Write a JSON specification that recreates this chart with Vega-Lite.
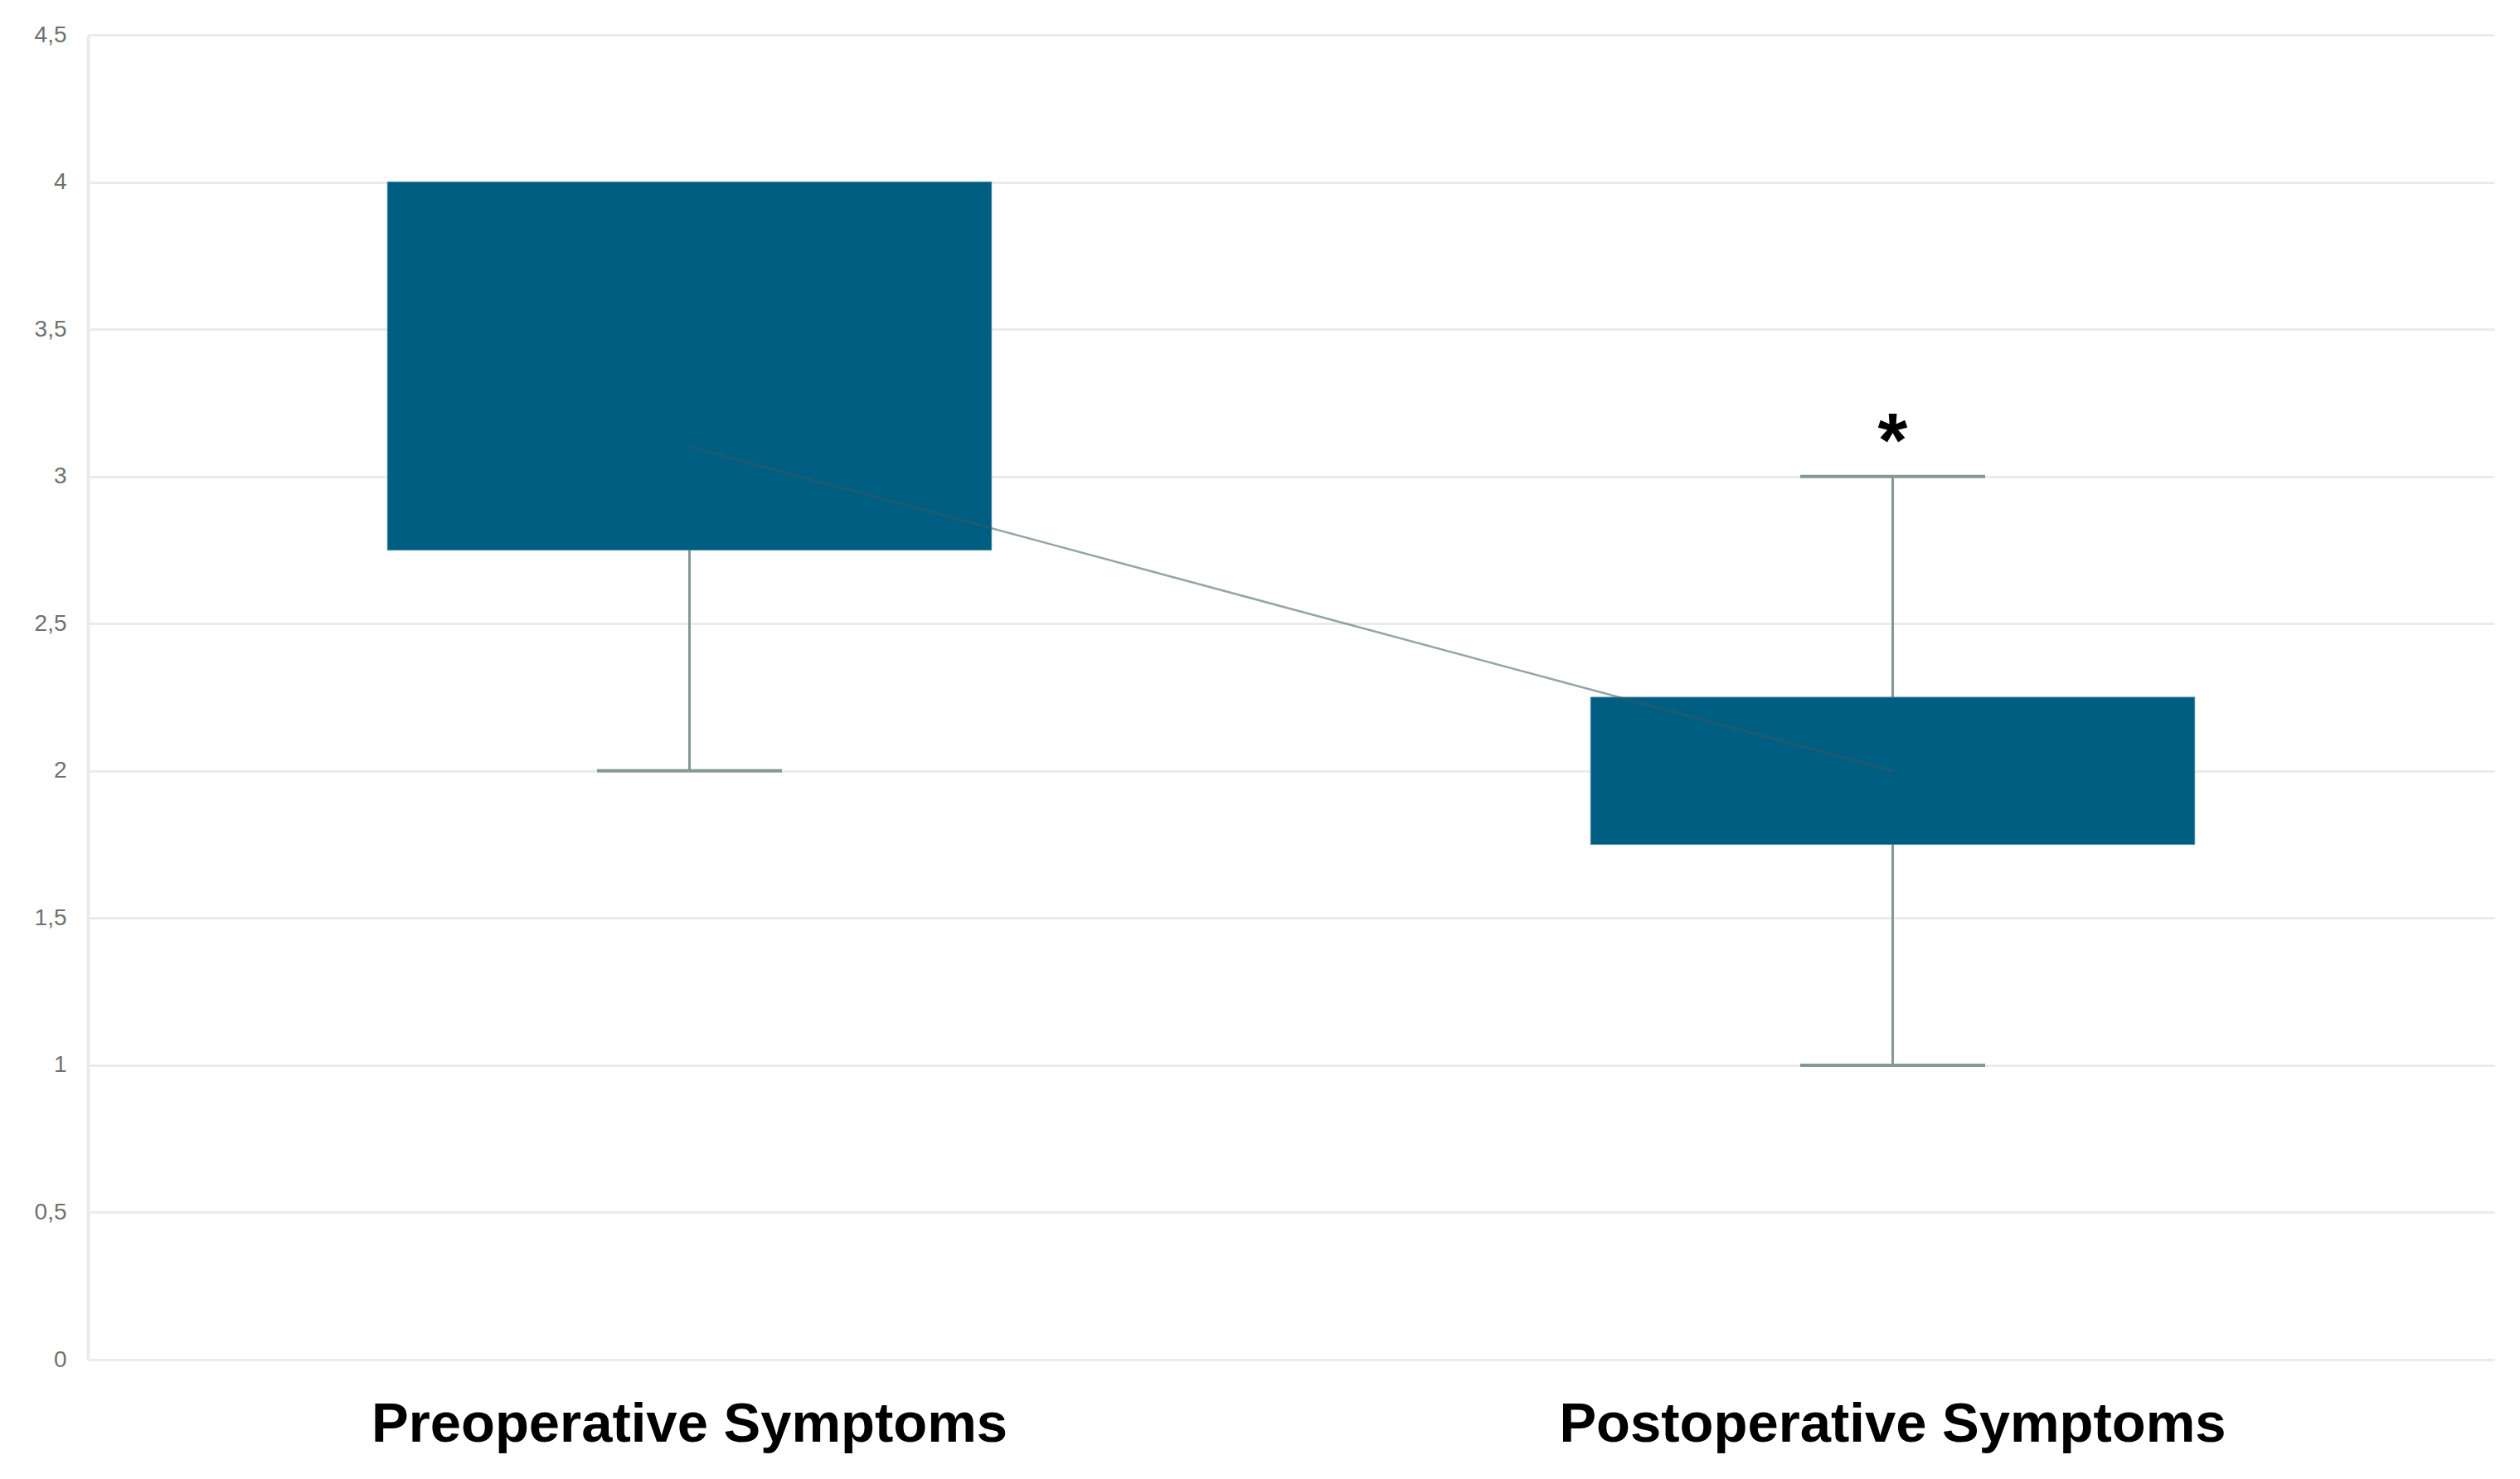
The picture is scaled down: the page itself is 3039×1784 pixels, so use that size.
{
  "$schema": "https://vega.github.io/schema/vega-lite/v6.json",
  "width": 2902,
  "height": 1598,
  "autosize": {"type": "none"},
  "padding": {"left": 106, "top": 42, "right": 31, "bottom": 144},
  "background": "white",
  "config": {"view": {"stroke": null}},
  "datasets": {
    "boxes": [
      {"group": "Preoperative Symptoms", "q1": 2.75, "q3": 4, "lower": 2, "upper": 4, "mean": 3.1},
      {"group": "Postoperative Symptoms", "q1": 1.75, "q3": 2.25, "lower": 1, "upper": 3, "mean": 2.0}
    ],
    "caps": [
      {"group": "Preoperative Symptoms", "value": 2},
      {"group": "Postoperative Symptoms", "value": 1},
      {"group": "Postoperative Symptoms", "value": 3}
    ],
    "stars": [
      {"group": "Postoperative Symptoms", "value": 3.16, "label": "*"}
    ]
  },
  "encoding": {
    "x": {
      "field": "group",
      "type": "nominal",
      "sort": ["Preoperative Symptoms", "Postoperative Symptoms"],
      "scale": {"paddingInner": 0, "paddingOuter": 0},
      "axis": {
        "title": null,
        "labelAngle": 0,
        "labelFont": "Liberation Sans",
        "labelFontWeight": "bold",
        "labelFontSize": 67,
        "labelColor": "#000000",
        "labelPadding": 45,
        "labelLimit": 2000,
        "ticks": false,
        "domain": false,
        "grid": false
      }
    }
  },
  "layer": [
    {
      "data": {"name": "boxes"},
      "mark": {"type": "rule", "color": "#849898", "strokeWidth": 3},
      "encoding": {
        "y": {
          "field": "lower",
          "type": "quantitative",
          "scale": {"domain": [0, 4.5], "nice": false},
          "axis": {
            "title": null,
            "values": [0, 0.5, 1, 1.5, 2, 2.5, 3, 3.5, 4, 4.5],
            "labelExpr": "replace(format(datum.value, '~g'), '.', ',')",
            "labelFont": "Liberation Sans",
            "labelFontSize": 28,
            "labelColor": "#707070",
            "labelPadding": 26,
            "ticks": false,
            "domain": true,
            "domainColor": "#ebebeb",
            "domainWidth": 4,
            "grid": true,
            "gridColor": "#ebebeb",
            "gridWidth": 3
          }
        },
        "y2": {"field": "upper"}
      }
    },
    {
      "data": {"name": "caps"},
      "mark": {"type": "tick", "orient": "horizontal", "color": "#849898", "size": 223, "thickness": 4, "opacity": 1},
      "encoding": {
        "y": {"field": "value", "type": "quantitative"}
      }
    },
    {
      "data": {"name": "boxes"},
      "mark": {"type": "bar", "color": "#005e82", "width": {"band": 0.502}, "stroke": "#3f87a0", "strokeWidth": 1, "opacity": 1},
      "encoding": {
        "y": {"field": "q1", "type": "quantitative"},
        "y2": {"field": "q3"}
      }
    },
    {
      "data": {"name": "boxes"},
      "mark": {"type": "line", "color": "#3d5a60", "strokeWidth": 2.5, "opacity": 0.55},
      "encoding": {
        "y": {"field": "mean", "type": "quantitative"}
      }
    },
    {
      "data": {"name": "stars"},
      "mark": {"type": "text", "font": "Liberation Sans", "fontWeight": "bold", "fontSize": 92, "color": "#000000", "baseline": "alphabetic", "dy": 45},
      "encoding": {
        "y": {"field": "value", "type": "quantitative"},
        "text": {"field": "label"}
      }
    }
  ]
}
